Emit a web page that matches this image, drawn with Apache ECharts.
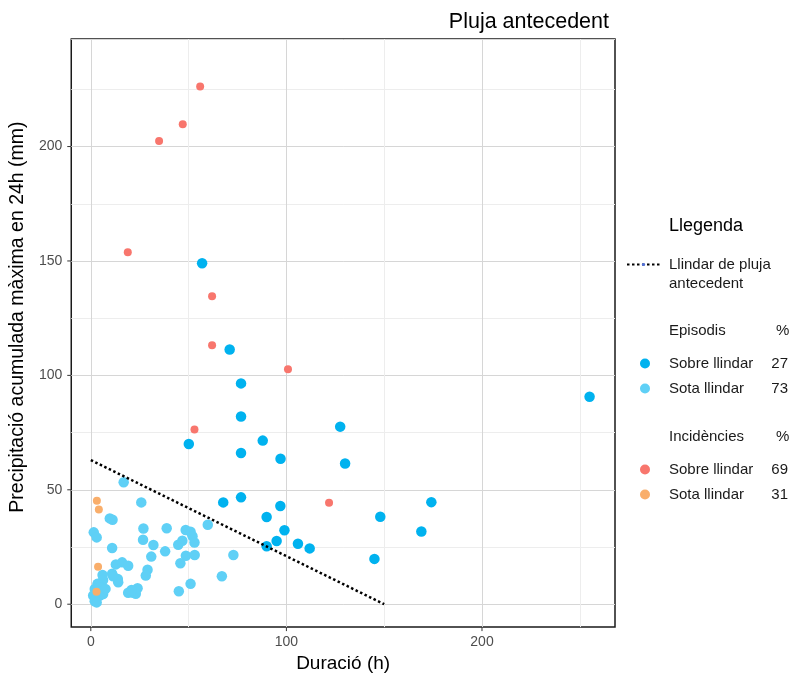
<!DOCTYPE html>
<html>
<head>
<meta charset="utf-8">
<script src="https://cdn.jsdelivr.net/npm/echarts@6/dist/echarts.min.js"></script>
<style>
html, body { margin: 0; padding: 0; background: #fff; }
#main { width: 793px; height: 678px; }
</style>
</head>
<body>
<div id="main"></div>
<script>
// dades llegides del gràfic: [durada (h), precipitació (mm)]
var episodisSobre = [
	[56.9, 149.0], [71.0, 111.3], [76.8, 96.5], [76.8, 82.0], [87.9, 71.5],
	[50.1, 70.0], [76.8, 66.1], [97.0, 63.6], [127.5, 77.6], [255.0, 90.7],
	[130.0, 61.5], [76.8, 46.7], [96.9, 42.9], [174.1, 44.6], [89.9, 38.1],
	[148.0, 38.2], [99.0, 32.3], [169.0, 31.8], [95.0, 27.6], [89.9, 25.3],
	[105.9, 26.4], [111.9, 24.4], [145.0, 19.8], [67.7, 44.5]
];
var episodisSota = [
	[16.8, 53.3], [25.8, 44.5], [59.8, 34.7], [9.7, 37.5], [11.1, 36.9],
	[1.5, 31.4], [3.0, 29.2], [26.9, 33.1], [38.8, 33.2], [48.5, 32.4],
	[51.0, 31.7], [52.0, 29.7], [53.0, 27.0], [26.7, 28.2], [32.0, 25.9],
	[44.7, 26.0], [46.8, 27.7], [10.9, 24.6], [38.0, 23.1], [30.9, 20.8],
	[48.6, 21.2], [53.1, 21.5], [72.9, 21.5], [12.8, 17.4], [16.0, 18.3],
	[19.1, 16.8], [45.8, 17.9], [29.0, 15.1], [28.1, 12.5], [10.9, 13.3],
	[13.8, 11.0], [14.0, 9.6], [67.0, 12.2], [51.0, 8.9], [45.0, 5.7],
	[19.1, 5.0], [21.6, 5.0], [23.0, 4.6], [23.9, 7.0], [6.0, 12.8],
	[6.3, 10.6], [11.4, 12.2], [3.4, 8.9], [2.0, 6.7], [4.6, 7.4],
	[6.3, 5.9], [1.2, 3.8], [2.9, 3.1], [4.6, 3.8], [2.0, 1.3],
	[6.3, 4.5], [7.5, 6.7], [20.8, 6.2], [3.0, 0.8]
];
var incidenciesSobre = [
	[55.9, 226.2], [47.0, 209.8], [34.9, 202.4], [18.9, 153.8], [62.0, 134.6],
	[62.0, 113.2], [100.8, 102.7], [53.0, 76.4], [121.8, 44.3]
];
var incidenciesSota = [
	[3.1, 45.2], [4.1, 41.4], [3.7, 16.4], [2.9, 5.5]
];
var llindar = [[0, 63], [150, 0]];

var xTickLabels = [0, 100, 200];
var yTickLabels = [0, 50, 100, 150, 200];

var percentatges = {
	'Sobre llindar (episodis)': 27,
	'Sota llindar (episodis)': 73,
	'Sobre llindar (incidències)': 69,
	'Sota llindar (incidències)': 31
};

var FONT = '"Liberation Sans", Arial, sans-serif';
var COL_SOBRE_EP = '#00b2ef';
var COL_SOTA_EP = '#5fd0f6';
var COL_SOBRE_INC = '#f8766d';
var COL_SOTA_INC = '#f9ae6b';

var MAJ = '#d6d6d6', MIN = '#ededed', NONE = 'rgba(0,0,0,0)';

function llegendaText(name) {
	var curt = name.replace(/ \(.*\)$/, '');
	return '{n|' + curt + '}{p|' + percentatges[name] + '}';
}
var richLlegenda = {
	n: { width: 97, fontSize: 15, fontFamily: FONT, color: '#1a1a1a', padding: [0, 0, 0, 7] },
	p: { width: 22, align: 'right', fontSize: 15, fontFamily: FONT, color: '#1a1a1a' }
};

var chart = echarts.init(document.getElementById('main'));
var option = {
	animation: false,
	backgroundColor: '#fff',
	title: {
		text: 'Pluja antecedent',
		right: 179,
		top: 6,
		textStyle: { fontSize: 21.5, fontWeight: 'normal', color: '#000', fontFamily: FONT }
	},
	grid: {
		left: 71, right: 178, top: 39, bottom: 49,
		show: true, borderColor: '#1a1a1a', borderWidth: 1.5
	},
	xAxis: {
		type: 'value', min: -10, max: 268, interval: 10,
		name: 'Duració (h)', nameLocation: 'middle', nameGap: 25,
		nameTextStyle: { fontSize: 19, color: '#000', fontFamily: FONT },
		axisLine: { show: false }, axisTick: { show: false },
		axisLabel: {
			margin: 8, fontSize: 14, color: '#4d4d4d', fontFamily: FONT,
			formatter: function (v) { return xTickLabels.indexOf(v) >= 0 ? String(v) : ''; }
		},
		splitLine: { show: true, lineStyle: { width: 1, color: [NONE, MAJ, NONE, NONE, NONE, NONE, MIN, NONE, NONE, NONE] } }
	},
	yAxis: {
		type: 'value', min: -10, max: 247, interval: 5,
		name: 'Precipitació acumulada màxima en 24h (mm)', nameLocation: 'middle', nameGap: 41,
		nameTextStyle: { fontSize: 19.5, color: '#000', fontFamily: FONT, padding: [0, 0, 0, 32] },
		axisLine: { show: false }, axisTick: { show: false },
		axisLabel: {
			margin: 9, fontSize: 14, color: '#4d4d4d', fontFamily: FONT,
			formatter: function (v) { return yTickLabels.indexOf(v) >= 0 ? String(v) : ''; }
		},
		splitLine: { show: true, lineStyle: { width: 1, color: [NONE, NONE, MAJ, NONE, NONE, NONE, NONE, MIN, NONE, NONE] } }
	},
	legend: [
		{
			data: ['Llindar de pluja antecedent'],
			orient: 'vertical', left: 626, top: 236, padding: 0,
			itemWidth: 33, itemHeight: 4,
			formatter: function () { return ' \nLlindar de pluja\nantecedent'; },
			textStyle: { fontSize: 15, lineHeight: 19, color: '#1a1a1a', fontFamily: FONT, padding: [0, 0, 0, 4] }
		},
		{
			data: ['Sobre llindar (episodis)', 'Sota llindar (episodis)'],
			orient: 'vertical', left: 640, top: 356, padding: 0,
			itemWidth: 24, itemHeight: 10, itemGap: 10, icon: 'circle',
			formatter: llegendaText,
			textStyle: { rich: richLlegenda }
		},
		{
			data: ['Sobre llindar (incidències)', 'Sota llindar (incidències)'],
			orient: 'vertical', left: 640, top: 462, padding: 0,
			itemWidth: 24, itemHeight: 10, itemGap: 10, icon: 'circle',
			formatter: llegendaText,
			textStyle: { rich: richLlegenda }
		}
	],
	graphic: [
		{ type: 'text', left: 669, top: 217, style: { text: 'Llegenda', fontSize: 18, fill: '#000', fontFamily: FONT } },
		{ type: 'text', left: 669, top: 323, style: { text: 'Episodis', fontSize: 15, fill: '#1a1a1a', fontFamily: FONT } },
		{ type: 'text', left: 776, top: 323, style: { text: '%', fontSize: 15, fill: '#1a1a1a', fontFamily: FONT } },
		{ type: 'text', left: 669, top: 429, style: { text: 'Incidències', fontSize: 15, fill: '#1a1a1a', fontFamily: FONT } },
		{ type: 'text', left: 776, top: 429, style: { text: '%', fontSize: 15, fill: '#1a1a1a', fontFamily: FONT } }
	],
	series: [
		{
			name: 'Sota llindar (episodis)', type: 'scatter', data: episodisSota,
			symbolSize: 10.5, itemStyle: { color: COL_SOTA_EP, opacity: 1 }, z: 2
		},
		{
			name: 'Sobre llindar (episodis)', type: 'scatter', data: episodisSobre,
			symbolSize: 10.5, itemStyle: { color: COL_SOBRE_EP, opacity: 1 }, z: 3
		},
		{
			name: 'Sota llindar (incidències)', type: 'scatter', data: incidenciesSota,
			symbolSize: 8, itemStyle: { color: COL_SOTA_INC, opacity: 1 }, z: 4
		},
		{
			name: 'Sobre llindar (incidències)', type: 'scatter', data: incidenciesSobre,
			symbolSize: 8, itemStyle: { color: COL_SOBRE_INC, opacity: 1 }, z: 4
		},
		{
			name: 'Llindar de pluja antecedent', type: 'line', data: llindar,
			symbol: 'none', z: 5,
			lineStyle: { color: '#000', width: 2.5, type: [2.5, 2.5] }
		}
	]
};
chart.setOption(option);

// marques dels eixos (a fora del requadre)
var marques = [];
xTickLabels.forEach(function (v) {
	var p = chart.convertToPixel({ gridIndex: 0 }, [v, -10]);
	marques.push({ type: 'line', shape: { x1: p[0], y1: p[1], x2: p[0], y2: p[1] + 4 }, style: { stroke: '#333', lineWidth: 1 } });
});
yTickLabels.forEach(function (v) {
	var p = chart.convertToPixel({ gridIndex: 0 }, [-10, v]);
	marques.push({ type: 'line', shape: { x1: p[0] - 4, y1: p[1], x2: p[0], y2: p[1] }, style: { stroke: '#333', lineWidth: 1 } });
});
chart.setOption({ graphic: option.graphic.concat(marques) });
</script>
</body>
</html>
